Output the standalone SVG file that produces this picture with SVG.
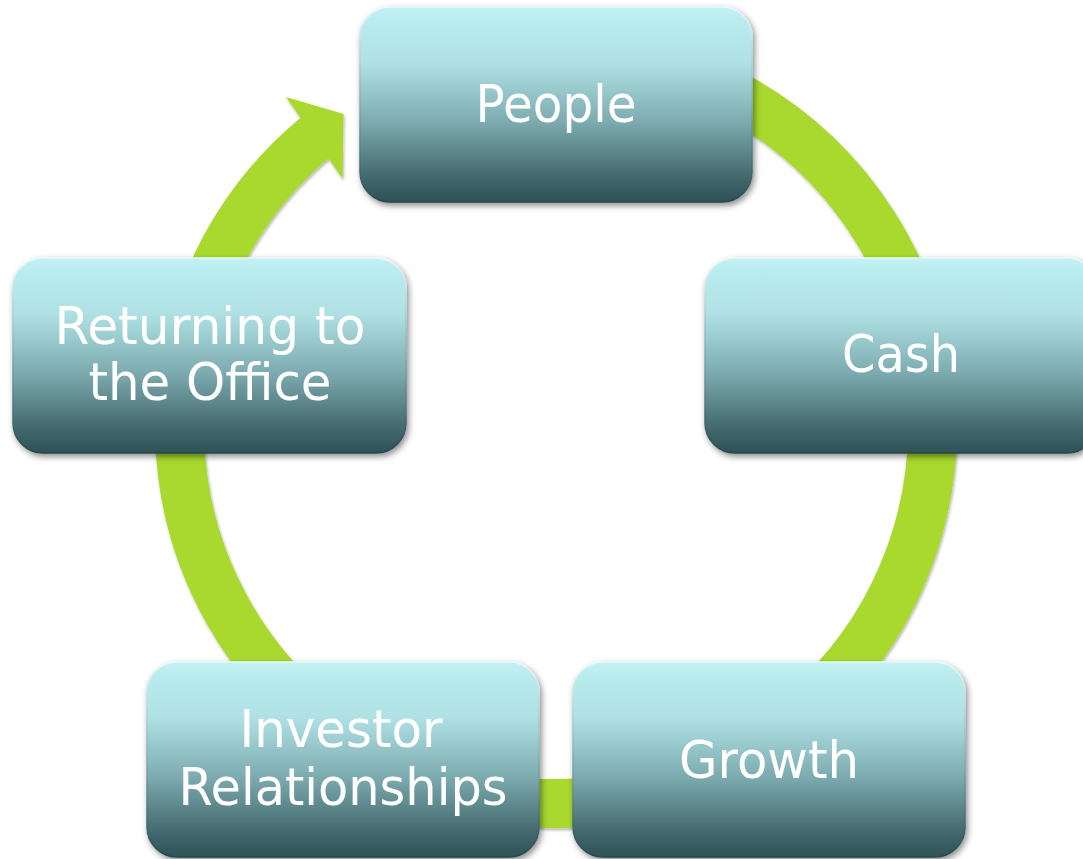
<svg xmlns="http://www.w3.org/2000/svg" width="1083" height="859" viewBox="0 0 1083 859">
  <defs>
    <linearGradient id="boxFill" x1="0" y1="0" x2="0" y2="1">
      <stop offset="0" stop-color="#C4F1F3"/>
      <stop offset="0.08" stop-color="#B8EBEE"/>
      <stop offset="0.28" stop-color="#B0E2E5"/>
      <stop offset="0.58" stop-color="#7EADB1"/>
      <stop offset="0.86" stop-color="#456B70"/>
      <stop offset="1" stop-color="#2D5156"/>
    </linearGradient>
    <linearGradient id="boxEdge" x1="0" y1="0" x2="0" y2="1">
      <stop offset="0" stop-color="#E6FAFB"/>
      <stop offset="0.5" stop-color="#7FAEB2"/>
      <stop offset="1" stop-color="#27474B"/>
    </linearGradient>
    <filter id="boxShadow" x="-10%" y="-10%" width="125%" height="130%">
      <feDropShadow dx="2" dy="3" stdDeviation="3" flood-color="#000" flood-opacity="0.45"/>
    </filter>
    <filter id="ringShadow" x="-10%" y="-10%" width="120%" height="120%">
      <feDropShadow dx="1" dy="2" stdDeviation="1.5" flood-color="#000" flood-opacity="0.3"/>
    </filter>
  </defs>
  <style>
    .box { fill: url(#boxFill); stroke: url(#boxEdge); stroke-width: 1.5; filter: url(#boxShadow); }
    .lbl { font-family: "DejaVu Sans", Verdana, sans-serif; font-size: 52px; fill: #FFFFFF; text-anchor: middle; }
    .ring { fill: none; stroke: #A9D92E; stroke-width: 49; }
    .head { fill: #A9D92E; }
  </style>
  <rect width="1083" height="859" fill="#FFFFFF"/>

  <g id="connectors" filter="url(#ringShadow)">
    <path class="ring" d="M 588.8 51.9 A 376.5 376.5 0 1 1 319.1 134.4"/>
    <polygon class="head" points="286,97 343.5,114 342.7,179"/>
  </g>

  <g id="node-people">
    <rect class="box" x="360" y="7" width="392" height="195" rx="30" ry="30"/>
    <text class="lbl" x="556" y="122" textLength="161" lengthAdjust="spacingAndGlyphs">People</text>
  </g>

  <g id="node-cash">
    <rect class="box" x="705" y="258" width="392" height="195" rx="30" ry="30"/>
    <text class="lbl" x="901" y="372" textLength="118" lengthAdjust="spacingAndGlyphs">Cash</text>
  </g>

  <g id="node-growth">
    <rect class="box" x="573" y="662" width="392" height="195" rx="30" ry="30"/>
    <text class="lbl" x="769" y="778" textLength="180" lengthAdjust="spacingAndGlyphs">Growth</text>
  </g>

  <g id="node-investor">
    <rect class="box" x="147" y="662" width="392" height="195" rx="30" ry="30"/>
    <text class="lbl" x="341" y="747" textLength="203" lengthAdjust="spacingAndGlyphs">Investor</text>
    <text class="lbl" x="343" y="805" textLength="329" lengthAdjust="spacingAndGlyphs">Relationships</text>
  </g>

  <g id="node-returning">
    <rect class="box" x="13" y="258" width="393" height="195" rx="30" ry="30"/>
    <text class="lbl" x="210" y="344" textLength="311" lengthAdjust="spacingAndGlyphs">Returning to</text>
    <text class="lbl" x="210" y="400" textLength="243" lengthAdjust="spacingAndGlyphs">the Office</text>
  </g>
</svg>
